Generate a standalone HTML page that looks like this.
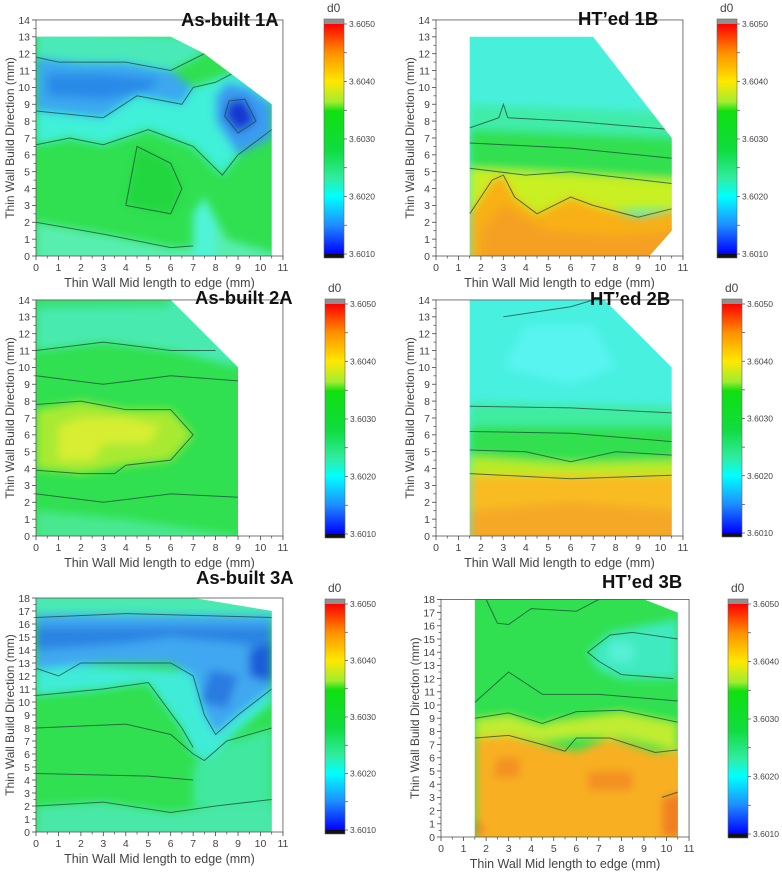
<!DOCTYPE html>
<html><head><meta charset="utf-8">
<style>
html,body{margin:0;padding:0;background:#fff;}
svg{display:block;font-family:"Liberation Sans",Arial,sans-serif;}
</style></head>
<body>
<svg id="s" width="782" height="872" viewBox="0 0 782 872" xmlns="http://www.w3.org/2000/svg">
<defs>
<filter id="bl" x="-10%" y="-10%" width="120%" height="120%"><feGaussianBlur stdDeviation="4.5"/></filter>
<linearGradient id="cb" x1="0" y1="1" x2="0" y2="0">
<stop offset="0" stop-color="#0000ff"/>
<stop offset="0.125" stop-color="#1e8cff"/>
<stop offset="0.25" stop-color="#00ffff"/>
<stop offset="0.33" stop-color="#30eca0"/>
<stop offset="0.45" stop-color="#10dc40"/>
<stop offset="0.62" stop-color="#10e010"/>
<stop offset="0.66" stop-color="#a0ec30"/>
<stop offset="0.75" stop-color="#ffe800"/>
<stop offset="0.875" stop-color="#ff9000"/>
<stop offset="1" stop-color="#ff0000"/>
</linearGradient>
</defs>
</svg>
<script>
var NS="http://www.w3.org/2000/svg",S=document.getElementById('s');
function el(t,a,p){var e=document.createElementNS(NS,t);for(var k in a)e.setAttribute(k,a[k]);(p||S).appendChild(e);return e;}
function txt(x,y,s,a,p){var e=el('text',Object.assign({x:x,y:y},a),p);e.textContent=s;return e;}
var cid=0;
function panel(P){
  var M=function(p){return (P.x0+p[0]*P.sx).toFixed(1)+','+(P.y0-p[1]*P.sy).toFixed(1);};
  var pts=function(a){return a.map(M).join(' ');};
  var id='c'+(cid++);
  var cp=el('clipPath',{id:id},S.querySelector('defs'));
  el('polygon',{points:pts(P.region)},cp);
  var g=el('g',{'clip-path':'url(#'+id+')'});
  el('rect',{x:P.x0-20,y:P.y0-P.ymax*P.sy-20,width:300,height:P.ymax*P.sy+40,fill:P.base},g);
  var gb=el('g',{filter:'url(#bl)'},g);
  P.layers.forEach(function(L){el('polygon',{points:pts(L.p),fill:L.c},gb);});
  (P.lines||[]).forEach(function(L){el('polyline',{points:pts(L),fill:'none',stroke:'#1d4a3a','stroke-width':1,'stroke-opacity':0.75},g);});
  var W=11*P.sx,H=P.ymax*P.sy,top=P.y0-H;
  el('rect',{x:P.x0,y:top,width:W,height:H,fill:'none',stroke:'#555','stroke-width':0.8});
  for(var i=0;i<=11;i++){var x=P.x0+i*P.sx;
    el('line',{x1:x,y1:P.y0,x2:x,y2:P.y0+4,stroke:'#444','stroke-width':0.8});
    if(i<11)el('line',{x1:x+P.sx/2,y1:P.y0,x2:x+P.sx/2,y2:P.y0+2.5,stroke:'#444','stroke-width':0.7});
    txt(x,P.y0+15,String(i),{'font-size':10.5,fill:'#444','text-anchor':'middle'});}
  for(var j=0;j<=P.ymax;j++){var y=P.y0-j*P.sy;
    el('line',{x1:P.x0-4,y1:y,x2:P.x0,y2:y,stroke:'#444','stroke-width':0.8});
    if(j<P.ymax)el('line',{x1:P.x0-2.5,y1:y-P.sy/2,x2:P.x0,y2:y-P.sy/2,stroke:'#444','stroke-width':0.7});
    txt(P.x0-6,y+3.8,String(j),{'font-size':10.5,fill:'#444','text-anchor':'end'});}
  txt(P.x0+5.5*P.sx,P.y0+31,'Thin Wall Mid length to edge (mm)',{'font-size':12.5,fill:'#444','text-anchor':'middle'});
  txt(0,0,'Thin Wall Build Direction (mm)',{'font-size':12,fill:'#444','text-anchor':'middle',transform:'translate('+(P.x0-22)+','+(P.y0-H/2)+') rotate(-90)'});
  txt(P.tx,P.ty,P.title,{'font-size':18.5,'font-weight':'bold',fill:'#111'});
  var c=P.cb,cx=c[0],ct=c[1],cbm=c[2];
  el('rect',{x:cx,y:ct,width:20,height:5,fill:'#909090'});
  el('rect',{x:cx,y:cbm-4,width:20,height:4,fill:'#111'});
  el('rect',{x:cx,y:ct+5,width:20,height:cbm-ct-9,fill:'url(#cb)'});
  el('rect',{x:cx,y:ct,width:20,height:cbm-ct,fill:'none',stroke:'#666','stroke-width':0.6});
  txt(cx+3,ct-7,'d0',{'font-size':12,fill:'#444'});
  var y1=ct+5,y2=cbm-4;
  for(var k=0;k<=8;k++){var yy=y1+(y2-y1)*k/8;
    el('line',{x1:cx+20,y1:yy,x2:cx+23,y2:yy,stroke:'#444','stroke-width':0.7});
    if(k%2==0)txt(cx+25,yy+3,(3.6050-k*0.00025*2).toFixed(4),{'font-size':8.5,fill:'#444'});}
}
var G='#30e050';
panel({x0:36,y0:256,sx:22.45,sy:16.86,ymax:14,title:'As-built 1A',tx:181,ty:26,cb:[324,19,258],
 region:[[0,0],[0,13],[6,13],[7.5,12],[10.5,9],[10.5,0]],base:G,
 layers:[
 {p:[[0,-1],[0,2],[3,1.3],[6,0.5],[7,0.5],[7.5,3.5],[8.5,1],[11,0],[11,-1]],c:'#58eeb0'},
 {p:[[7,-1],[7,2.5],[7.5,3.5],[8,2],[8,-1]],c:'#50f4d8'},
 {p:[[4,3],[4.5,6.5],[6,5.5],[6.5,4],[6,2.5]],c:'#22d640'},
 {p:[[0,6.6],[1.5,7],[3,6.6],[5,7.5],[7,6.5],[8.3,4.8],[9,6],[10.5,7.5],[10.5,9.5],[9,11],[7,10],[6.5,9],[4.5,9.5],[3,8.2],[0,8.6]],c:'#40f0d8'},
 {p:[[0,8.6],[3,8.2],[4.5,9.5],[6.5,9],[7,10],[6,11],[4,11.5],[2,11.5],[0,11.8]],c:'#3aa8f0'},
 {p:[[0.5,9.5],[3,9.3],[5,9.8],[5.5,10.5],[3,10.8],[0.5,10.8]],c:'#2c8ae8'},
 {p:[[0,11.8],[2,11.5],[4,11.5],[6,11],[7.5,12],[7,13],[0,13.5]],c:'#48eab8'},
 {p:[[8,8],[9,6],[10.5,7],[10.5,9],[9.5,10],[8.5,10.3],[8,9.5]],c:'#3a9cf0'},
 {p:[[8.4,8.3],[9,7.3],[9.8,8],[9.3,9.3],[8.6,9.2]],c:'#1838d0'}],
 lines:[[[0,2],[3,1.3],[6,0.5],[7,0.6]],[[0,6.6],[1.5,7],[3,6.6],[5,7.5],[7,6.5],[8.3,4.8],[9,6],[10.5,7.5]],[[0,8.6],[3,8.2],[4.5,9.5],[6.5,9],[7,10],[8,10.3],[9,11]],[[0,11.8],[1,11.5],[4,11.5],[6,11],[7.5,12]],[[4,3],[4.5,6.5],[6,5.5],[6.5,4],[6,2.5],[4,3]],[[8.4,8.3],[9,7.3],[9.8,8],[9.3,9.3],[8.6,9.2],[8.4,8.3]]]});
panel({x0:436,y0:256,sx:22.45,sy:16.86,ymax:14,title:'HT\u2019ed 1B',tx:578,ty:25,cb:[717,19,258],
 region:[[1.5,0],[1.5,13],[7,13],[10.5,7],[10.5,1.5],[9.5,0]],base:'#48f0dc',
 layers:[
 {p:[[1.5,7.5],[11,7],[11,8.5],[1.5,9]],c:'#40eca8'},
 {p:[[1.5,5],[11,4.5],[11,7],[1.5,7.5]],c:'#30e050'},
 {p:[[1.5,2.5],[11,2.8],[11,4.5],[1.5,5.2]],c:'#c8f020'},
 {p:[[1.5,-1],[1.5,2.5],[2.5,4.5],[3,4.8],[3.5,3.5],[4.5,2.5],[6,3.5],[7,3],[9,2.3],[11,2.8],[11,-1]],c:'#f8b018'},
 {p:[[2,-1],[2,1.5],[3,3],[5,1.5],[8,1.2],[11,1.5],[11,-1]],c:'#f5a020'}],
 lines:[[[1.5,2.5],[2.5,4.5],[3,4.8],[3.5,3.5],[4.5,2.5],[6,3.5],[7,3],[9,2.3],[10.5,2.8]],[[1.5,5.2],[4,4.8],[6,5],[10.5,4.3]],[[1.5,6.7],[6,6.4],[10.5,5.8]],[[1.5,7.6],[2.8,8.2],[3,9],[3.2,8.2],[6,8],[10.5,7.5]]]});
panel({x0:36,y0:536,sx:22.45,sy:16.86,ymax:14,title:'As-built 2A',tx:195,ty:304,cb:[325,299,538],
 region:[[0,0],[0,14],[6,14],[9,10],[9,0]],base:G,
 layers:[
 {p:[[0,11],[3,11.5],[6,11],[9,10],[9,15],[0,15]],c:'#48eab0'},
 {p:[[0,13.5],[6,13.6],[6,15],[0,15]],c:'#38e070'},
 {p:[[0,-1],[0,1.5],[4,1],[9,0],[9,-1]],c:'#48e890'},
 {p:[[0,4],[2,3.7],[4,4.2],[6,4.5],[7,6],[6,7.5],[4,7.5],[2,8],[0,7.5]],c:'#a8ea30'},
 {p:[[1,4.5],[2.5,4.5],[3,5.5],[5,5.5],[5.5,6.5],[4,7],[2,7],[1,6.5]],c:'#d8ee30'}],
 lines:[[[0,7.8],[2,8],[4,7.5],[6,7.5],[7,6],[6,4.5],[4,4.2],[3.5,3.7],[2,3.7],[0,3.9]],[[0,9.5],[3,9],[6,9.5],[9,9.2]],[[0,11],[3,11.5],[6,11],[8,11]],[[0,2.5],[3,2],[6,2.5],[9,2.3]]]});
panel({x0:436,y0:536,sx:22.45,sy:16.86,ymax:14,title:'HT\u2019ed 2B',tx:590,ty:305,cb:[722,299,537],
 region:[[1.5,0],[1.5,14],[7.5,14],[10.5,10],[10.5,0]],base:'#48f0e0',
 layers:[
 {p:[[3,10],[6,9],[8,10],[7,12.5],[4,12.5]],c:'#58f4f0'},
 {p:[[1.5,6.5],[11,6.5],[11,7.7],[1.5,7.9]],c:'#40eca0'},
 {p:[[1.5,4.5],[6,4.3],[11,4.5],[11,6.5],[1.5,6.5]],c:'#30e050'},
 {p:[[1.5,3.5],[11,3.5],[11,4.5],[6,4.3],[1.5,4.7]],c:'#b8ec28'},
 {p:[[1.5,-1],[1.5,3.6],[11,3.6],[11,-1]],c:'#f8bc20'},
 {p:[[1.5,-1],[1.5,1.5],[6,2],[11,1.5],[11,-1]],c:'#f5a828'}],
 lines:[[[1.5,3.7],[6,3.4],[10.5,3.6]],[[1.5,5.1],[4,5],[6,4.4],[8,5],[10.5,4.8]],[[1.5,6.2],[6,6.1],[10.5,5.6]],[[1.5,7.7],[6,7.6],[10.5,7.3]],[[3,13],[6,13.6],[7,14]]]});
panel({x0:36,y0:832,sx:22.45,sy:13.0,ymax:18,title:'As-built 3A',tx:196,ty:584,cb:[325,599,834],
 region:[[0,0],[0,18],[7,18],[10.5,17],[10.5,0]],base:G,
 layers:[
 {p:[[-1,16.8],[11,16.5],[11,19],[-1,19]],c:'#48eab0'},
 {p:[[0,-1],[0,2],[3,2.3],[6,1.5],[8,2],[10.5,2.5],[11,-1]],c:'#48e8a8'},
 {p:[[7,2],[7,5],[8,6.5],[10.5,8],[10.5,2]],c:'#40e8a0'},
 {p:[[0,10.5],[3,11],[5,11.5],[6.5,8],[7,6],[7.5,5.5],[8.5,7],[10.5,10],[10.5,12],[0,13]],c:'#40ecd8'},
 {p:[[0,12.5],[3,13],[6,13],[7,12],[7.5,9],[8,7.5],[9,9],[10.5,11],[10.5,16.7],[0,16.8]],c:'#40a8f0'},
 {p:[[0,14],[4,14.5],[6,15],[9,14.5],[10.5,14],[10.5,15.8],[0,15.8]],c:'#2c84e2'},
 {p:[[9.5,12],[10.5,11.5],[10.5,14.5],[9.5,14]],c:'#1a5cd8'},
 {p:[[7.3,10],[8.5,9.5],[9,12],[7.8,12.5]],c:'#2a7ae0'}],
 lines:[[[0,2],[3,2.3],[6,1.5],[8,2],[10.5,2.5]],[[0,8],[4,8.3],[6,7.5],[7,6],[7.5,5.5],[8.5,7],[10.5,8]],[[0,10.5],[3,11],[5,11.5],[6.5,8],[7,6.5]],[[0,12.6],[1,12],[2,13],[3,13],[6,13],[7,12],[7.5,9],[8,7.5],[9,9],[10.5,11]],[[0,16.5],[4,16.8],[10.5,16.5]],[[0,4.5],[5,4.3],[7,4]]]});
panel({x0:441,y0:837,sx:22.55,sy:13.2,ymax:18,title:'HT\u2019ed 3B',tx:602,ty:588,cb:[728,599,838],
 region:[[1.5,0],[1.5,18],[9,18],[10.5,17],[10.5,0]],base:G,
 layers:[
 {p:[[6.5,14],[7.5,15.5],[10.5,16.5],[10.5,12],[8,12],[7,12.7]],c:'#40eac0'},
 {p:[[7.5,13.3],[8.5,13.3],[8.5,14.7],[7.5,14.7]],c:'#58f0d8'},
 {p:[[1.5,7.5],[3,7.7],[4.5,7.2],[6,7.5],[8,7.5],[10.5,6.5],[10.5,8.7],[8,9.5],[5,8.8],[4.5,8.5],[3,9.3],[1.5,9]],c:'#c0ec30'},
 {p:[[1.5,-1],[1.5,7.5],[3,7.7],[4.5,7],[6,6.5],[7.5,7.5],[9.5,6.4],[11,6.6],[11,-1]],c:'#f8b020'},
 {p:[[2.3,4.5],[3.5,4.5],[3.5,6],[2.5,6]],c:'#f39020'},
 {p:[[6.5,3.5],[8.5,3.5],[8.5,5],[6.5,5]],c:'#f39020'},
 {p:[[9.8,0],[11,0],[11,3.5],[9.8,3]],c:'#f08020'},
 {p:[[1.5,0],[2,0.5],[1.5,1.5]],c:'#f08020'}],
 lines:[[[1.5,7.5],[3,7.7],[4.5,7],[5.5,6.5],[6,7.5],[7.5,7.5],[9.5,6.4],[10.5,6.6]],[[1.5,9],[3,9.4],[4.5,8.6],[5,8.9],[6,9.5],[8,9.6],[10.5,8.7]],[[1.5,10.2],[3,12.5],[4.5,10.8],[7,10.8],[10.5,10.3]],[[2,18],[2.5,16.2],[3,16.1],[4,17.3],[6,17.1],[7,18]],[[10.3,12],[8,12.3],[7,13.3],[6.5,14],[7.5,15.3],[8.5,15.5],[10.5,15]],[[9.8,3],[10.5,3.4]]]});
</script>
</body></html>
